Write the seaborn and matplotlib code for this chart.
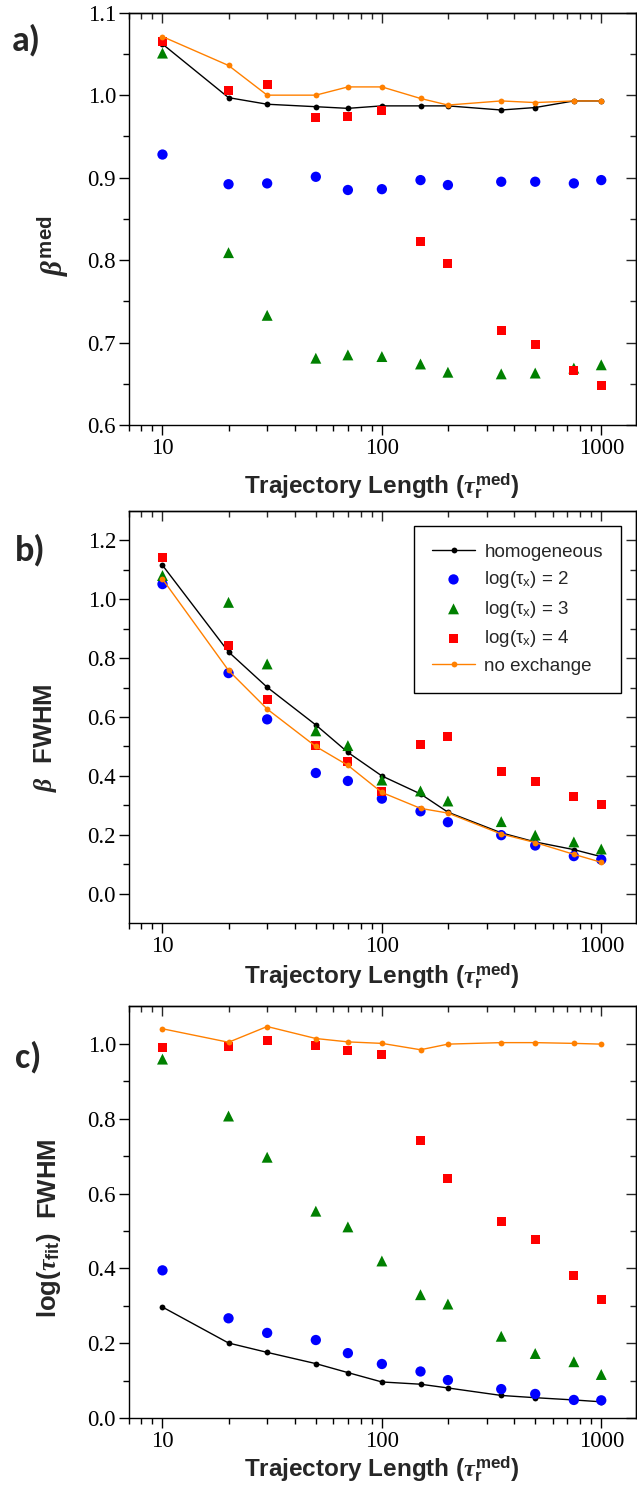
import numpy as np
import matplotlib
matplotlib.use('Agg')
import matplotlib.pyplot as plt
import seaborn as sns
from matplotlib import font_manager as fm
from matplotlib.ticker import FixedLocator, NullFormatter, LogLocator, FixedFormatter

# ---------------- data ----------------
x_len = [10, 20, 30, 50, 70, 100, 150, 200, 350, 500, 750, 1000]

series_labels = ['homogeneous', r'log(τ$_\mathregular{x}$) = 2', r'log(τ$_\mathregular{x}$) = 3',
                 r'log(τ$_\mathregular{x}$) = 4', 'no exchange']

# panel a : beta median
a_homog = [1.062, 0.997, 0.989, 0.986, 0.984, 0.987, 0.987, 0.987, 0.982, 0.985, 0.993, 0.993]
a_log2 = [0.928, 0.892, 0.893, 0.901, 0.885, 0.886, 0.897, 0.891, 0.895, 0.895, 0.893, 0.897]
a_log3 = [1.051, 0.809, 0.733, 0.681, 0.685, 0.683, 0.674, 0.664, 0.662, 0.663, 0.669, 0.673]
a_log4 = [1.065, 1.006, 1.013, 0.973, 0.974, 0.982, 0.823, 0.796, 0.714, 0.698, 0.666, 0.648]
a_noex = [1.071, 1.036, 1.000, 1.000, 1.010, 1.010, 0.996, 0.988, 0.993, 0.991, 0.993, 0.993]

# panel b : beta FWHM
b_homog = [1.115, 0.821, 0.701, 0.573, 0.480, 0.400, 0.339, 0.277, 0.207, 0.176, 0.150, 0.126]
b_log2 = [1.051, 0.749, 0.592, 0.410, 0.383, 0.323, 0.280, 0.243, 0.199, 0.164, 0.128, 0.116]
b_log3 = [1.080, 0.989, 0.780, 0.553, 0.503, 0.386, 0.349, 0.315, 0.245, 0.199, 0.176, 0.152]
b_log4 = [1.141, 0.844, 0.661, 0.503, 0.450, 0.347, 0.507, 0.534, 0.415, 0.380, 0.330, 0.303]
b_noex = [1.068, 0.758, 0.627, 0.500, 0.436, 0.344, 0.290, 0.274, 0.203, 0.174, 0.134, 0.107]

# panel c : log(tau_fit) FWHM
c_homog = [0.297, 0.201, 0.176, 0.146, 0.122, 0.097, 0.091, 0.081, 0.061, 0.055, 0.049, 0.044]
c_log2 = [0.395, 0.267, 0.228, 0.209, 0.174, 0.145, 0.125, 0.102, 0.078, 0.065, 0.049, 0.048]
c_log3 = [0.959, 0.807, 0.697, 0.553, 0.511, 0.420, 0.330, 0.305, 0.219, 0.173, 0.151, 0.117]
c_log4 = [0.990, 0.992, 1.008, 0.996, 0.983, 0.971, 0.742, 0.641, 0.526, 0.478, 0.382, 0.316]
c_noex = [1.040, 1.004, 1.046, 1.014, 1.005, 1.001, 0.984, 0.999, 1.003, 1.003, 1.001, 0.999]

x_ticks = [10, 100, 1000]
x_ticklabels = ['10', '100', '1000']
a_yticks = [0.6, 0.7, 0.8, 0.9, 1.0, 1.1]
b_yticks = [0.0, 0.2, 0.4, 0.6, 0.8, 1.0, 1.2]
c_yticks = [0.0, 0.2, 0.4, 0.6, 0.8, 1.0]


def first_font(names, fallback):
    for n in names:
        try:
            fm.findfont(fm.FontProperties(family=n), fallback_to_default=False)
            return n
        except Exception:
            continue
    return fallback


SERIF = first_font(['Liberation Serif', 'DejaVu Serif'], 'serif')
SANS = first_font(['Liberation Sans', 'DejaVu Sans'], 'sans-serif')
PANEL = first_font(['Carlito', 'Lato', SANS], SANS)

# ---------------- style ----------------
sns.set_style('ticks')
# default font = serif (tick labels); every other text names its sans family explicitly
plt.rcParams['font.family'] = [SERIF, 'DejaVu Serif']
plt.rcParams['mathtext.fontset'] = 'custom'
plt.rcParams['mathtext.rm'] = SANS + ':bold'
plt.rcParams['mathtext.it'] = SERIF + ':italic:bold'
plt.rcParams['mathtext.bf'] = SANS + ':bold'
plt.rcParams['mathtext.sf'] = SANS
plt.rcParams['axes.linewidth'] = 1.0

C_BLUE = '#0000FF'
C_GREEN = '#008000'
C_RED = '#FF0000'
C_ORANGE = '#FF8000'

W, H = 637, 1489
fig = plt.figure(figsize=(W / 100, H / 100), dpi=100)

left_px, right_px = 128.5, 636
panels_px = [(12.7, 425.0), (510.7, 923.3), (1006.3, 1418.3)]
axes = []
for top, bot in panels_px:
    ax = fig.add_axes([left_px / W, 1 - bot / H, (right_px - left_px) / W, (bot - top) / H])
    axes.append(ax)


def draw(ax, homog, log2, log3, log4, noex):
    sns.lineplot(x=x_len, y=homog, ax=ax, color='black', lw=1.0, marker='o', markersize=4.2,
                 markeredgewidth=0, label=series_labels[0], legend=False, zorder=3)
    sns.scatterplot(x=x_len, y=log2, ax=ax, color=C_BLUE, marker='o', s=55, edgecolor='none',
                    linewidth=0, label=series_labels[1], legend=False, zorder=4)
    sns.scatterplot(x=x_len, y=log3, ax=ax, color=C_GREEN, marker='^', s=62, edgecolor='none',
                    linewidth=0, label=series_labels[2], legend=False, zorder=4)
    sns.scatterplot(x=x_len, y=log4, ax=ax, color=C_RED, marker='s', s=42, edgecolor='none',
                    linewidth=0, label=series_labels[3], legend=False, zorder=4)
    sns.lineplot(x=x_len, y=noex, ax=ax, color=C_ORANGE, lw=1.0, marker='o', markersize=4.2,
                 markeredgewidth=0, label=series_labels[4], legend=False, zorder=5)


def style_axes(ax, ylim, yticks, yminor, xlabelpad):
    ax.set_xscale('log')
    ax.set_xlim(7, 1440)
    ax.set_ylim(*ylim)
    ax.xaxis.set_major_locator(FixedLocator(x_ticks))
    ax.xaxis.set_major_formatter(FixedFormatter(x_ticklabels))
    ax.xaxis.set_minor_locator(LogLocator(base=10, subs=np.arange(2, 10)))
    ax.xaxis.set_minor_formatter(NullFormatter())
    ax.yaxis.set_major_locator(FixedLocator(yticks))
    ax.yaxis.set_major_formatter(FixedFormatter(['%.1f' % v for v in yticks]))
    ax.yaxis.set_minor_locator(FixedLocator(yminor))
    ax.tick_params(which='major', direction='out', length=7, width=1.0, colors='black',
                   labelsize=16.5, pad=2)
    ax.tick_params(which='minor', direction='out', length=4, width=1.0, colors='black')
    for sp in ax.spines.values():
        sp.set_visible(True)
        sp.set_color('black')
        sp.set_linewidth(1.0)
    # inward ticks on the top and right edges
    top = ax.secondary_xaxis('top')
    top.xaxis.set_major_locator(FixedLocator(x_ticks))
    top.xaxis.set_minor_locator(LogLocator(base=10, subs=np.arange(2, 10)))
    top.xaxis.set_minor_formatter(NullFormatter())
    top.tick_params(which='major', direction='in', length=7, width=1.0, labeltop=False)
    top.tick_params(which='minor', direction='in', length=4, width=1.0, labeltop=False)
    right = ax.secondary_yaxis('right')
    right.yaxis.set_major_locator(FixedLocator(yticks))
    right.yaxis.set_minor_locator(FixedLocator(yminor))
    right.tick_params(which='major', direction='in', length=7, width=1.0, labelright=False)
    right.tick_params(which='minor', direction='in', length=4, width=1.0, labelright=False)
    ax.set_xlabel(r'Trajectory Length ($\tau_\mathbf{r}^\mathbf{med}$)', fontsize=17.5,
                  fontweight='bold', family=[SANS, 'DejaVu Sans'], labelpad=xlabelpad)


ax_a, ax_b, ax_c = axes
draw(ax_a, a_homog, a_log2, a_log3, a_log4, a_noex)
draw(ax_b, b_homog, b_log2, b_log3, b_log4, b_noex)
draw(ax_c, c_homog, c_log2, c_log3, c_log4, c_noex)

style_axes(ax_a, (0.6, 1.1), a_yticks, [0.65, 0.75, 0.85, 0.95, 1.05], 9)
style_axes(ax_b, (-0.1, 1.3), b_yticks, [0.1, 0.3, 0.5, 0.7, 0.9, 1.1], 3)
style_axes(ax_c, (0.0, 1.1), c_yticks, [0.1, 0.3, 0.5, 0.7, 0.9], 2)

ax_a.set_ylabel(r'$\beta^{\mathbf{med}}$', fontsize=21, va='center', family=[SANS, 'DejaVu Sans'])
ax_a.yaxis.set_label_coords(-0.148, 0.434)
ax_b.set_ylabel(r'$\beta$  FWHM', fontsize=18.5, fontweight='bold', va='center',
                family=[SANS, 'DejaVu Sans'])
ax_b.yaxis.set_label_coords(-0.163, 0.450)
ax_c.set_ylabel(r'log($\tau_\mathbf{fit}$)  FWHM', fontsize=18.5, fontweight='bold', va='center',
                family=[SANS, 'DejaVu Sans'])
ax_c.yaxis.set_label_coords(-0.156, 0.462)

handles, labels = ax_b.get_legend_handles_labels()
leg = ax_b.legend(handles, labels, loc='upper right', bbox_to_anchor=(0.970, 0.963),
                  borderaxespad=0, frameon=True, fancybox=False, framealpha=1,
                  edgecolor='black', prop={'family': [SANS, 'DejaVu Sans'], 'size': 13.5},
                  handlelength=2.3, handletextpad=0.5,
                  labelspacing=0.45, borderpad=0.95, markerscale=1.0)
leg.get_frame().set_linewidth(1.0)

for lab, (px, py) in zip(['a)', 'b)', 'c)'], [(26, 40), (30, 550), (28, 1057)]):
    fig.text(px / W, 1 - py / H, lab, fontsize=26, fontweight='bold', family=[PANEL, 'DejaVu Sans'],
             ha='center', va='center')

fig.savefig('out.png', dpi=100)
